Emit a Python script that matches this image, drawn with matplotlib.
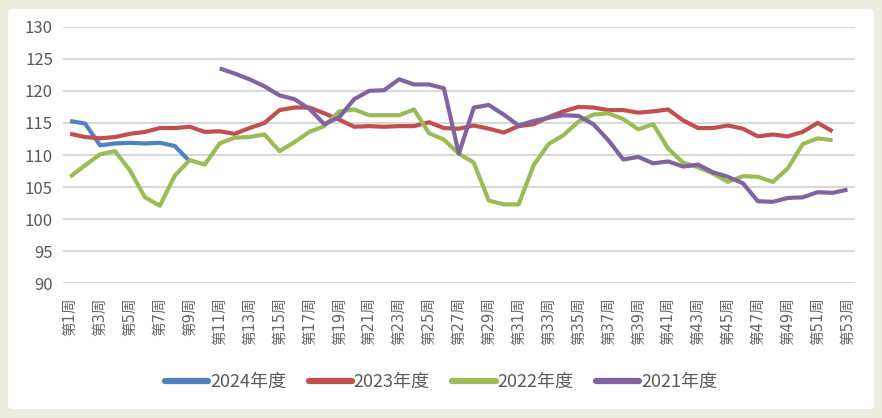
import matplotlib
matplotlib.use("Agg")
import matplotlib.pyplot as plt
from matplotlib.patches import FancyBboxPatch
import numpy as np

plt.rcParams['font.family'] = ['Noto Sans CJK SC', 'DejaVu Sans']

weeks = list(range(1, 54))
tick_weeks = list(range(1, 54, 2))
tick_labels = [f"第{w}周" for w in tick_weeks]

s2024 = [115.3, 114.9, 111.5, 111.8, 111.9, 111.8, 111.9, 111.4, 109.0]
s2023 = [113.3, 112.8, 112.6, 112.8, 113.3, 113.6, 114.2, 114.2, 114.4, 113.6,
         113.7, 113.3, 114.2, 115.0, 117.0, 117.4, 117.4, 116.5, 115.5, 114.4,
         114.5, 114.4, 114.5, 114.5, 115.1, 114.2, 114.1, 114.6, 114.1, 113.5,
         114.5, 114.8, 115.9, 116.8, 117.5, 117.4, 117.0, 117.0, 116.6, 116.8,
         117.1, 115.4, 114.2, 114.2, 114.6, 114.1, 112.9, 113.2, 112.9, 113.6,
         115.0, 113.7]
s2022 = [106.6, 108.4, 110.1, 110.6, 107.6, 103.4, 102.1, 106.8, 109.2, 108.5,
         111.8, 112.7, 112.8, 113.2, 110.6, 112.0, 113.6, 114.5, 116.8, 117.1,
         116.2, 116.2, 116.2, 117.1, 113.4, 112.4, 110.2, 108.8, 102.9, 102.3,
         102.3, 108.4, 111.7, 113.1, 115.2, 116.3, 116.5, 115.6, 114.0, 114.8,
         111.0, 108.8, 108.1, 107.1, 105.8, 106.7, 106.6, 105.8, 107.9, 111.7,
         112.6, 112.3]
s2021_start = 11
s2021 = [123.5, 122.7, 121.8, 120.7, 119.3, 118.7, 117.2, 114.8, 115.9, 118.7,
         120.0, 120.1, 121.8, 121.0, 121.0, 120.4, 110.2, 117.4, 117.8, 116.3,
         114.6, 115.3, 115.8, 116.2, 116.1, 114.8, 112.3, 109.3, 109.7, 108.7,
         109.0, 108.2, 108.5, 107.3, 106.6, 105.6, 102.8, 102.7, 103.3, 103.4,
         104.2, 104.1, 104.6]

series = [("2024年度", s2024, 1, "#4F81BD"),
          ("2023年度", s2023, 1, "#C0504D"),
          ("2022年度", s2022, 1, "#9BBB59"),
          ("2021年度", s2021, s2021_start, "#8064A2")]

W, H = 882, 418
fig = plt.figure(figsize=(W / 100, H / 100), dpi=100)
fig.patch.set_facecolor("#EEECE1")
bg = FancyBboxPatch((8 / W, 9 / H), (874 - 8) / W, (409 - 9) / H,
                    boxstyle="round,pad=0,rounding_size=0.008",
                    transform=fig.transFigure, facecolor="white",
                    edgecolor="none", zorder=-5)
fig.patches.append(bg)

ax = fig.add_axes([62.7 / W, 1 - 283.3 / H, (855 - 62.7) / W, (283.3 - 26.7) / H])
ax.set_zorder(2)
ax.set_facecolor("none")

for name, vals, start, col in series:
    xs = np.arange(start, start + len(vals))
    ax.plot(xs, vals, color=col, lw=3.0, label=name, solid_capstyle="butt",
            solid_joinstyle="round", zorder=3)

ax.set_xlim(0.5, 53.5)
ax.set_ylim(90, 130)
ax.set_yticks(range(90, 131, 5))
ax.yaxis.grid(True, color="#D9D9D9", lw=1.5)
ax.set_axisbelow(True)
for sp in ax.spines.values():
    sp.set_visible(False)
ax.tick_params(axis="y", length=0, pad=7, labelsize=12, labelcolor="#595959")
ax.set_xticks(tick_weeks)
ax.set_xticklabels(tick_labels, rotation=90, fontsize=10.5, color="#666666",
                   family=['DejaVu Sans', 'Noto Sans CJK SC'])
ax.tick_params(axis="x", length=0, pad=10)

leg = fig.legend(loc="center", bbox_to_anchor=(0.5, 1 - 382 / H), ncol=4,
                 frameon=False, fontsize=13, handlelength=2.4,
                 columnspacing=1.25, handletextpad=0.1)
leg.set_zorder(3)
for t in leg.get_texts():
    t.set_color("#595959")
for l in leg.get_lines():
    l.set_linewidth(4.5)
    l.set_solid_capstyle("round")

fig.savefig("out.png", dpi=100, facecolor=fig.get_facecolor())
